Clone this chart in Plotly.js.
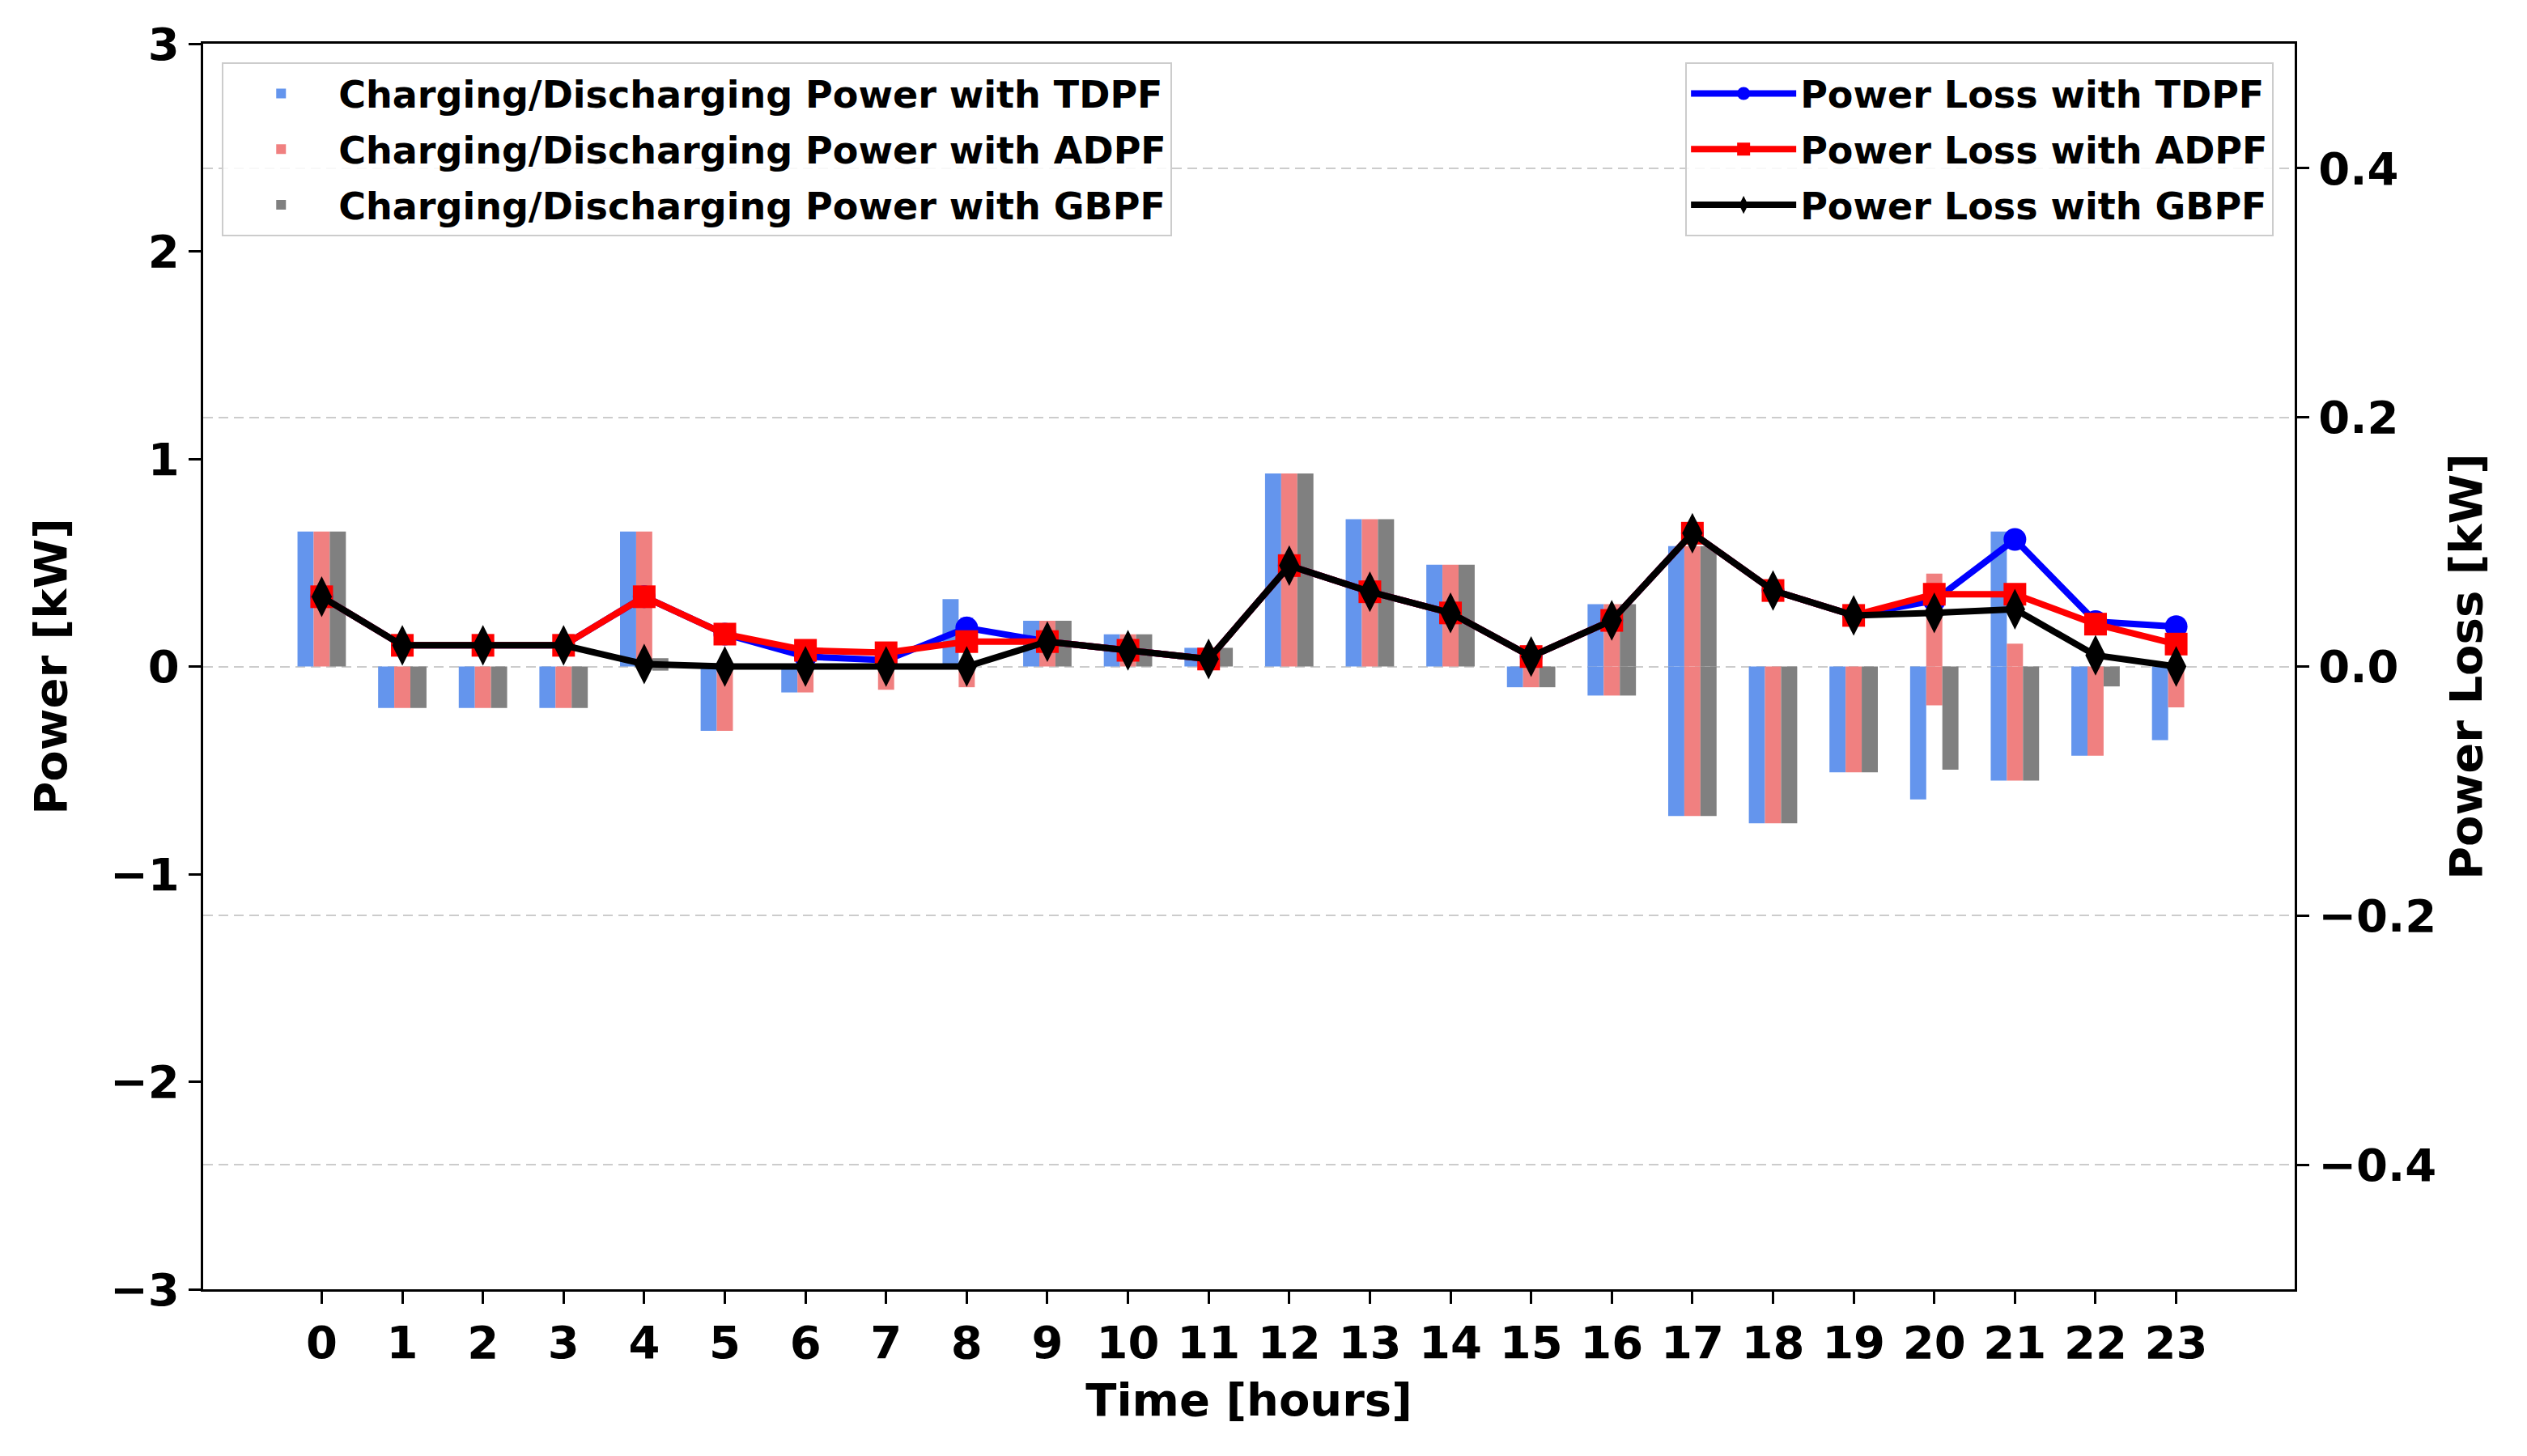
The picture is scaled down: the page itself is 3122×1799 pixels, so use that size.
<!DOCTYPE html>
<html>
<head>
<meta charset="utf-8">
<script src="https://cdn.plot.ly/plotly-3.0.1.min.js"></script>
<style>body{margin:0;background:#fff}</style>
</head>
<body>
<div id="chart" style="width:3122px;height:1799px"></div>
<script>
// hours of the day
var hours = [0,1,2,3,4,5,6,7,8,9,10,11,12,13,14,15,16,17,18,19,20,21,22,23]

// charging (positive) and discharging (negative) power [kW]
var tdpf_charge    = [0.65,0,0,0,0.65,0,0,0,0.325,0.22,0.155,0.09,0.93,0.71,0.49,0,0.30,0.58,0,0,0,0.65,0,0]
var tdpf_discharge = [0,-0.2,-0.2,-0.2,0,-0.31,-0.125,0,0,0,0,0,0,0,0,-0.10,-0.14,-0.72,-0.755,-0.51,-0.64,-0.55,-0.43,-0.355]
var adpf_charge    = [0.65,0,0,0,0.65,0,0,0,0,0.22,0.155,0.09,0.93,0.71,0.49,0,0.30,0.58,0,0,0.447,0.11,0,0]
var adpf_discharge = [0,-0.2,-0.2,-0.2,0,-0.31,-0.125,-0.112,-0.10,0,0,0,0,0,0,-0.10,-0.14,-0.72,-0.755,-0.51,-0.187,-0.55,-0.43,-0.197]
var gbpf_charge    = [0.65,0,0,0,0.04,0,0,0,0,0.22,0.155,0.09,0.93,0.71,0.49,0,0.30,0.58,0,0,0,0,0,0]
var gbpf_discharge = [0,-0.2,-0.2,-0.2,-0.02,0,0,0,0,0,0,0,0,0,0,-0.10,-0.14,-0.72,-0.755,-0.51,-0.497,-0.55,-0.096,0]

// power loss [kW]
var loss_tdpf = [0.056,0.017,0.017,0.017,0.056,0.026,0.008,0.005,0.031,0.020,0.013,0.006,0.081,0.060,0.043,0.008,0.037,0.107,0.061,0.041,0.053,0.102,0.036,0.032]
var loss_adpf = [0.056,0.017,0.017,0.017,0.056,0.026,0.013,0.011,0.020,0.020,0.013,0.006,0.081,0.060,0.043,0.008,0.037,0.107,0.061,0.041,0.058,0.058,0.034,0.018]
var loss_gbpf = [0.056,0.017,0.017,0.017,0.002,0.0,0.0,0.0,0.0,0.020,0.013,0.006,0.081,0.060,0.043,0.008,0.037,0.107,0.061,0.041,0.043,0.046,0.009,0.0]

var font_family = 'DejaVu Sans, Verdana, sans-serif'

function bar_pair(name, up, down, color, offset) {
    var common = {
        x: hours,
        type: 'bar',
        width: 0.2,
        offset: offset,
        marker: {color: color, line: {width: 0}},
        legend: 'legend',
        legendgroup: name,
        name: name,
        hoverinfo: 'x+y+name'
    }
    var a = Object.assign({}, common, {y: up, showlegend: true})
    var b = Object.assign({}, common, {y: down, showlegend: false})
    return [a, b]
}

function loss_line(name, values, color, symbol, size) {
    return {
        x: hours,
        y: values,
        yaxis: 'y2',
        type: 'scatter',
        mode: 'lines+markers',
        name: name,
        legend: 'legend2',
        legendgroup: name,
        line: {color: color, width: 8},
        marker: {color: color, symbol: symbol, size: size, line: {width: 0}}
    }
}

var data = []
data = data.concat(bar_pair('Charging/Discharging Power with TDPF', tdpf_charge, tdpf_discharge, '#6495ED', -0.3))
data = data.concat(bar_pair('Charging/Discharging Power with ADPF', adpf_charge, adpf_discharge, '#F08080', -0.1))
data = data.concat(bar_pair('Charging/Discharging Power with GBPF', gbpf_charge, gbpf_discharge, '#808080', 0.1))
data.push(loss_line('Power Loss with TDPF', loss_tdpf, '#0000FF', 'circle', 28))
data.push(loss_line('Power Loss with ADPF', loss_adpf, '#FF0000', 'square', 28))
data.push(loss_line('Power Loss with GBPF', loss_gbpf, '#000000', 'diamond-tall', 36))

var tick_font = {family: font_family, size: 56, color: 'black', weight: 'bold'}
var title_font = {family: font_family, size: 56, color: 'black', weight: 'bold'}
var legend_font = {family: font_family, size: 46, color: 'black', weight: 'bold'}

var layout = {
    width: 3122,
    height: 1799,
    margin: {l: 251, r: 287, t: 54, b: 206, pad: 0},
    paper_bgcolor: 'white',
    plot_bgcolor: 'white',
    barmode: 'overlay',
    showlegend: true,
    xaxis: {
        range: [-1.47, 24.47],
        tickvals: hours,
        ticktext: hours.map(String),
        ticks: 'outside',
        ticklen: 15,
        tickwidth: 3,
        tickcolor: 'black',
        showline: true,
        linewidth: 3,
        linecolor: 'black',
        mirror: true,
        showgrid: false,
        zeroline: false,
        tickfont: tick_font,
        title: {text: 'Time [hours]', font: title_font, standoff: 20}
    },
    yaxis: {
        range: [-3, 3],
        tickvals: [-3, -2, -1, 0, 1, 2, 3],
        ticks: 'outside',
        ticklen: 15,
        tickwidth: 3,
        tickcolor: 'black',
        showline: true,
        linewidth: 3,
        linecolor: 'black',
        showgrid: false,
        zeroline: false,
        tickfont: tick_font,
        title: {text: 'Power [kW]', font: title_font, standoff: 36}
    },
    yaxis2: {
        overlaying: 'y',
        side: 'right',
        range: [-0.5, 0.5],
        tickvals: [-0.4, -0.2, 0, 0.2, 0.4],
        tickformat: '.1f',
        ticks: 'outside',
        ticklen: 15,
        tickwidth: 3,
        tickcolor: 'black',
        showline: true,
        linewidth: 3,
        linecolor: 'black',
        showgrid: true,
        gridcolor: '#cccccc',
        gridwidth: 2,
        griddash: '12px,7px',
        zeroline: false,
        tickfont: tick_font,
        title: {text: 'Power Loss [kW]', font: title_font, standoff: 18}
    },
    legend: {
        x: 0.009,
        y: 0.985,
        xanchor: 'left',
        yanchor: 'top',
        bgcolor: 'rgba(255,255,255,0.85)',
        bordercolor: '#cccccc',
        borderwidth: 2,
        font: legend_font,
        itemwidth: 132,
        traceorder: 'grouped',
        tracegroupgap: 6
    },
    legend2: {
        x: 0.99,
        y: 0.985,
        xanchor: 'right',
        yanchor: 'top',
        bgcolor: 'rgba(255,255,255,0.85)',
        bordercolor: '#cccccc',
        borderwidth: 2,
        font: legend_font,
        itemwidth: 130,
        traceorder: 'grouped',
        tracegroupgap: 6
    }
}

Plotly.newPlot('chart', data, layout, {displayModeBar: false, responsive: false, staticPlot: true})
</script>
</body>
</html>
